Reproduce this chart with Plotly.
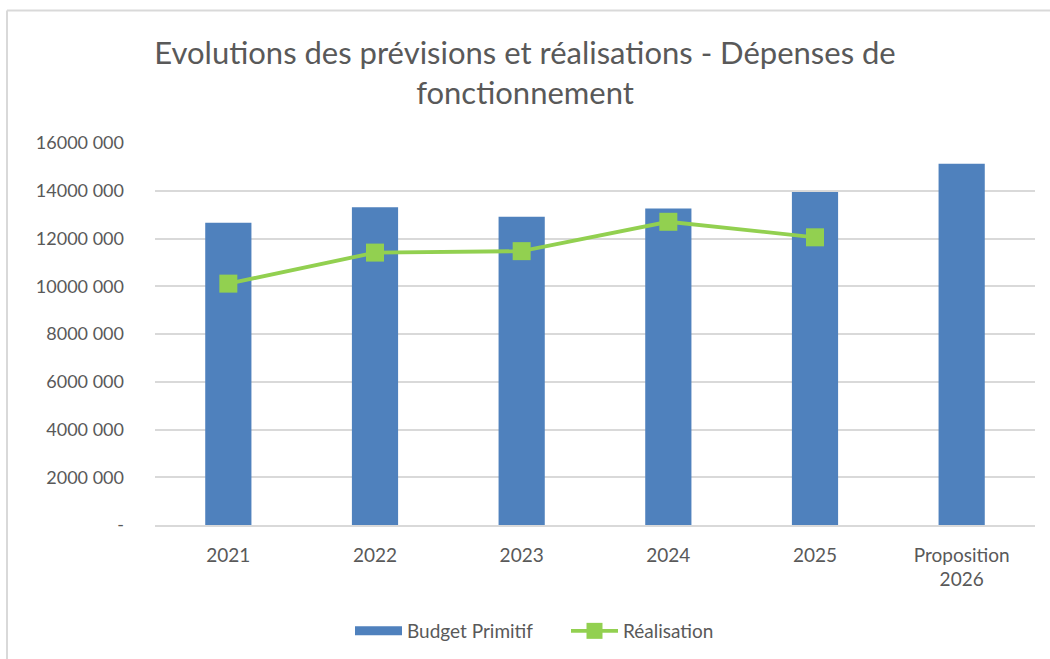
import plotly.graph_objects as go

categories = ["2021", "2022", "2023", "2024", "2025", "Proposition<br>2026"]
budget_primitif = [12660000, 13310000, 12910000, 13260000, 13950000, 15130000]
realisation = [10110000, 11410000, 11470000, 12700000, 12050000, None]
tick_values = [0, 2000000, 4000000, 6000000, 8000000, 10000000, 12000000, 14000000, 16000000]


def fmt(v):
    if v == 0:
        return "-"
    s = str(v)
    return s[:-3] + " " + s[-3:]


tick_text = [fmt(v) for v in tick_values]

W, H = 1050, 659
L, R, T, B = 155, 15, 143, 134
pw, ph = W - L - R, H - T - B
BLUE = "#4F81BD"
GREEN = "#92D050"
TXT = "#595959"

fig = go.Figure()
fig.add_trace(go.Bar(
    x=categories, y=budget_primitif, name="Budget Primitif",
    marker=dict(color=BLUE, line=dict(width=0)), showlegend=False,
    legendgroup="bp",
))
# legend entry drawn as a wide rectangle (Excel style)
fig.add_trace(go.Scatter(
    x=[None], y=[None], name="Budget Primitif", mode="lines",
    line=dict(color=BLUE, width=9), legendgroup="bp",
))
fig.add_trace(go.Scatter(
    x=categories, y=realisation, name="Réalisation", mode="lines+markers",
    line=dict(color=GREEN, width=3.8),
    marker=dict(symbol="square", size=18, color=GREEN),
))


def px_x(p):
    return (p - L) / pw


def px_y(p):
    return (H - B - p) / ph


border = dict(color="#D9D9D9", width=2)
fig.add_shape(type="line", xref="paper", yref="paper",
              x0=px_x(7), x1=px_x(1050), y0=px_y(10.5), y1=px_y(10.5), line=border)
fig.add_shape(type="line", xref="paper", yref="paper",
              x0=px_x(7), x1=px_x(7), y0=px_y(10.5), y1=px_y(659), line=border)

fig.update_layout(
    width=W, height=H,
    margin=dict(l=L, r=R, t=T, b=B, autoexpand=False),
    paper_bgcolor="white", plot_bgcolor="white",
    font=dict(family="Lato, Open Sans, sans-serif", color=TXT, size=19),
    title=dict(text="Evolutions des prévisions et réalisations - Dépenses de<br>fonctionnement",
               x=0.5, xanchor="center", y=(H - 64) / H, yanchor="middle",
               font=dict(size=31, color=TXT)),
    bargap=0.685,
    showlegend=True,
    legend=dict(orientation="h", x=px_x(350), xanchor="left", y=px_y(631), yanchor="middle",
                font=dict(size=19, color=TXT), traceorder="normal", itemwidth=47,
                entrywidth=154, entrywidthmode="pixels"),
    yaxis=dict(range=[0, 16000000], tickvals=tick_values, ticktext=tick_text,
               showgrid=True, gridcolor="#D9D9D9", gridwidth=1.5, zeroline=False,
               showline=False, ticks="", ticklabelstandoff=30, automargin=False,
               tickfont=dict(size=18, color=TXT)),
    xaxis=dict(showline=True, linecolor="#D9D9D9", linewidth=1.5, ticks="",
               ticklabelstandoff=12, automargin=False,
               tickfont=dict(size=19, color=TXT)),
)

fig.write_html("out.html", config={"displayModeBar": False},
               post_script="document.body.style.margin='0';")
